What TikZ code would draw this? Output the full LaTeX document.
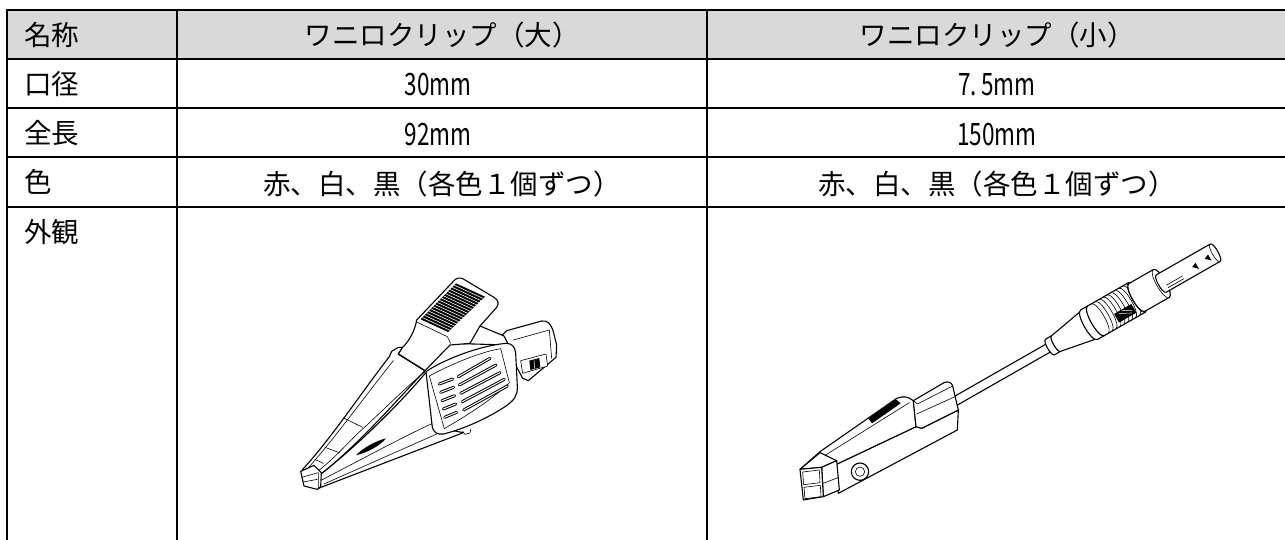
\documentclass[tikz,border=0pt]{standalone}
\usepackage{fontspec}
\setmainfont{Noto Sans CJK JP}
\usepackage{graphicx}
\usetikzlibrary{calc}
\definecolor{hdrgray}{HTML}{D9D9D9}
\newcommand\numtxt[1]{\scalebox{0.82}[1.12]{#1}}
\newcommand\mycyl[3]{%
  \draw[ol, fill=white] (#1,-#3) -- (#2,-#3) .. controls ({#2+0.4*#3},-#3) and ({#2+0.4*#3},#3) .. (#2,#3) -- (#1,#3) .. controls ({#1-0.4*#3},#3) and ({#1-0.4*#3},-#3) .. cycle;
  \draw[ln] (#2,-#3) .. controls ({#2-0.4*#3},-#3) and ({#2-0.4*#3},#3) .. (#2,#3);}
\tikzset{
  gridline/.style={line width=2pt, line cap=rect},
  celltext/.style={font=\fontsize{27.5}{32}\selectfont, inner sep=0pt},
  ol/.style={line width=1.1pt, line join=round, line cap=round},
  ln/.style={line width=0.6pt, line join=round, line cap=round},
  slot/.style={double, double distance=1pt, line width=1pt, line cap=round},
}
\begin{document}
\begin{tikzpicture}[x=1pt,y=-1pt]
\useasboundingbox (0,0) rectangle (1285,539);
\fill[white] (0,0) rectangle (1285,539);
% ---------- table ----------
\fill[hdrgray] (7,10) rectangle (1285,59);
\foreach \yy in {10,59,108,157,207} \draw[gridline] (7,\yy) -- (1286,\yy);
\foreach \xx in {7,177,707} \draw[gridline] (\xx,10) -- (\xx,540);
% header
\node[celltext, anchor=west] (h1) at (24,35) {名称};
\node[celltext] (h2) at (442,35.5) {ワニロクリップ（大）};
\node[celltext] (h3) at (997,35.5) {ワニロクリップ（小）};
% rows
\node[celltext, anchor=west] (a1) at (24,84) {口径};
\node[celltext] (b1) at (438,85) {\numtxt{30mm}};
\node[celltext] (c1) at (997,85) {\numtxt{7.\kern0.18em5mm}};
\node[celltext, anchor=west] (a2) at (24,133) {全長};
\node[celltext] (b2) at (438,134.5) {\numtxt{92mm}};
\node[celltext] (c2) at (997,134.5) {\numtxt{150mm}};
\node[celltext, anchor=west] (a3) at (24,182) {色};
\node[celltext] (b3) at (442,184) {赤、白、黒（各色１個ずつ）};
\node[celltext] (c3) at (997,184) {赤、白、黒（各色１個ずつ）};
\node[celltext, anchor=west] (a4) at (24,232) {外観};
% ---------- large clip ----------
\begin{scope}[shift={(250,230)}, x=0.33333pt, y=-0.33333pt]
  % rear box
  \draw[ol, fill=white] (752,320) -- (770,302) -- (875,273) .. controls (893,270) and (903,282) .. (910,305) -- (920,345) -- (918,382) -- (835,452) -- (818,445) -- cycle;
  \draw[ln] (790,330) -- (898,300);
  \draw[ln] (898,300) -- (905,385);
  \draw[ln, fill=white] (812,392) -- (888,372) -- (893,408) -- (818,430) -- cycle;
  \fill (838,392) -- (868,384) -- (871,412) -- (841,420) -- cycle;
  \draw[white, line width=0.5pt] (852,390) -- (854,416);
  % top plate
  \draw[ol, fill=white] (600,340) -- (690,288) -- (762,318) -- (776,345) -- cycle;
  % lower jaw
  \draw[ol, fill=white] (198,736) -- (215,730) .. controls (330,640) and (450,520) .. (530,425) -- (548,590) -- (640,608) -- (205,775) -- cycle;
  \draw[ln] (215,750) .. controls (350,680) and (460,620) .. (552,578);
  \draw[ln] (222,762) -- (560,612);
  \fill (318,676) .. controls (340,652) and (380,632) .. (408,625) .. controls (392,646) and (352,668) .. cycle;
  % upper jaw
  \draw[ol, fill=white] (158,718) .. controls (240,630) and (340,480) .. (418,380) -- (425,364) -- (445,352) -- (458,352) -- (445,372) -- (525,422) .. controls (450,500) and (330,640) .. (215,730) -- (198,736) -- cycle;
  \draw[ln] (176,712) .. controls (250,630) and (340,505) .. (430,392);
  \draw[ln] (205,722) .. controls (260,680) and (300,630) .. (340,595) .. controls (400,540) and (470,470) .. (525,425);
  \draw[ln] (283,565) -- (338,592);
  \draw[ln] (225,652) -- (268,668);
  \draw[ln] (195,688) -- (220,700);
  % lever
  \draw[ol, fill=white] (500,270) -- (612,152) .. controls (620,143) and (630,142) .. (640,147) -- (732,202) .. controls (745,210) and (748,220) .. (740,232) -- (690,288) -- (660,340) -- (600,345) -- (525,422) -- (445,372) -- (458,352) .. controls (480,330) and (495,300) .. cycle;
  \fill (512,268) -- (618,160) -- (705,200) -- (594,306) -- cycle;
  \foreach \t in {0.05,0.11,...,0.95}
    \draw[white, line width=0.6pt] ($(618,160)!\t!(512,268)$) -- ($(705,200)!\t!(594,306)$);
  \draw[ln] (500,276) -- (592,320) -- (602,340);
  \draw[ol] (445,372) -- (525,422);
  % body panel
  \draw[ol, fill=white] (528,425) .. controls (570,395) and (680,348) .. (768,340) .. controls (788,340) and (795,352) .. (797,370) -- (802,470) .. controls (803,498) and (792,512) .. (762,532) .. controls (700,572) and (630,600) .. (580,612) .. controls (562,615) and (550,606) .. (547,592) -- cycle;
  \draw[ln] (538,438) .. controls (585,412) and (680,368) .. (752,356) -- (778,458) .. controls (720,515) and (640,562) .. (583,596) -- cycle;
  % grille
  \draw[slot] (625,440) -- (720,385);
  \draw[slot] (628,465) -- (738,405);
  \draw[slot] (632,490) -- (750,428);
  \draw[slot] (637,515) -- (763,448);
  \draw[slot] (641,540) -- (772,468);
  \draw[slot] (568,462) -- (608,447);
  \draw[slot] (572,487) -- (611,472);
  \draw[slot] (576,512) -- (614,497);
  \draw[slot] (580,537) -- (617,522);
  \draw[slot] (584,562) -- (620,547);
  % screw
  \draw[ln, fill=white] (638,604) -- (645,613) -- (660,609) -- (662,598);
  % tip
  \draw[ol, fill=white] (152,724) -- (192,706) -- (214,728) -- (212,770) -- (202,778) -- (162,768) -- cycle;
  \draw[ln] (155,742) -- (205,728) -- (205,776);
  \draw[ln] (160,756) -- (202,748);
\end{scope}
% ---------- small clip ----------
\begin{scope}[shift={(1050,347)}, x={(0.869pt,0.496pt)}, y={(0.496pt,-0.869pt)}]
  \fill[white] (-120,-4.5) -- (2,-4.5) -- (2,4.5) -- (-120,4.5) -- cycle;
  \draw[ol] (-120,-4.5) -- (2,-4.5);
  \draw[ol] (-120,4.5) -- (2,4.5);
\end{scope}
\begin{scope}[shift={(740,230)}, x=0.33333pt, y=-0.33333pt]
  % body side face
  \draw[ol, fill=white] (285,705) -- (528,590) -- (545,595) -- (655,540) -- (652,600) -- (295,790) -- cycle;
  % lever top face
  \draw[ol, fill=white] (180,718) -- (240,665) -- (470,505) .. controls (490,497) and (505,500) .. (520,512) -- (528,590) -- (285,705) -- cycle;
  \draw[ln] (252,678) -- (508,518);
  \fill (385,565) -- (468,508) -- (482,520) -- (396,580) -- cycle;
  % nose
  \draw[ol, fill=white] (180,718) -- (240,668) -- (290,692) -- (245,712) -- cycle;
  \draw[ol, fill=white] (245,712) -- (290,692) -- (298,780) -- (250,800) -- cycle;
  \draw[ol, fill=white] (180,718) -- (245,712) -- (250,800) -- (190,810) -- cycle;
  \draw[ln] (188,726) -- (238,720) -- (240,758) -- (191,764) -- cycle;
  \draw[ln] (192,772) -- (241,766) -- (243,800) -- (195,806) -- cycle;
  \draw[ln] (250,760) -- (296,742);
  % bracket
  \draw[ol, fill=white] (520,512) -- (612,458) .. controls (625,452) and (635,458) .. (638,468) -- (655,540) -- (545,595) -- (528,590) -- cycle;
  \draw[ln] (520,512) -- (532,522) -- (638,468);
  \draw[ln] (530,552) -- (645,500);
  % rivet
  \draw[ol, fill=white] (360,725) circle (26);
  \draw[ln] (360,725) circle (14);
\end{scope}
\begin{scope}[shift={(1050,347)}, x={(0.869pt,0.496pt)}, y={(0.496pt,-0.869pt)}]
  \mycyl{0}{7}{9}
  \draw[ol, fill=white] (7,-9) -- (45,-16) .. controls (51.4,-16) and (51.4,16) .. (45,16) -- (7,9) .. controls (3.4,9) and (3.4,-9) .. cycle;
  \mycyl{45}{53}{17}
  \mycyl{53}{100}{17}
  \foreach \t in {57,61.5,...,97}
    \draw[ln] (\t,-17) .. controls ({\t+6.8},-17) and ({\t+6.8},17) .. (\t,17);
  \fill (72,3) -- (92,3) -- (92,13) -- (72,13) -- cycle;
  \draw[white, line width=0.5pt] (76,5) -- (88,11);
  \draw[white, line width=0.5pt] (80,4) -- (90,9);
  \mycyl{100}{128}{16}
  \mycyl{128}{190}{10}
  \draw[ln] (132,4) -- (150,4);
  \draw[ln] (132,7) -- (150,7);
  \fill (163,1) -- (168,-1) -- (168,6) -- cycle;
  \fill (178,0) -- (183,-2) -- (183,5) -- cycle;
\end{scope}
\end{tikzpicture}
\end{document}
